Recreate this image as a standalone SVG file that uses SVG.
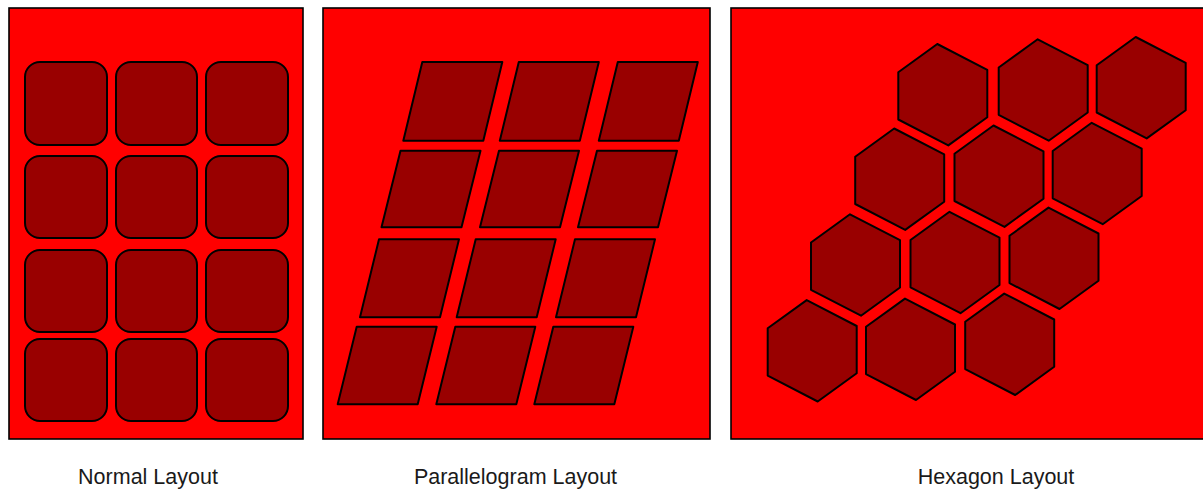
<svg xmlns="http://www.w3.org/2000/svg" xmlns:xlink="http://www.w3.org/1999/xlink" width="1203" height="491" viewBox="0 0 1203 491">
  <style>
    .panel { fill: #ff0000; stroke: #000000; stroke-width: 1.6; }
    .tile { fill: #990000; stroke: #000000; stroke-width: 2; stroke-linejoin: round; }
    .label { font-family: "Liberation Sans", Arial, sans-serif; font-size: 21.5px; fill: #1a1a1a; text-anchor: middle; }
  </style>
  <defs>
    <polygon id="hexShape" class="tile" points="-5.5,-50.7 44.5,-24.8 44.5,22.5 5.5,50.7 -44.5,24.8 -44.5,-22.5"/>
  </defs>
  <rect width="1203" height="491" fill="#ffffff"/>

  <!-- Panels -->
  <g id="panel-normal"><rect class="panel" x="9" y="8" width="294" height="431"/></g>
  <g id="panel-parallelogram"><rect class="panel" x="323" y="8" width="387" height="431"/></g>
  <g id="panel-hexagon"><rect class="panel" x="731" y="8" width="480" height="431"/></g>

  <!-- Normal layout tiles -->
  <g id="normal-r1c1"><rect class="tile" x="25" y="62" width="82" height="83" rx="15"/></g>
  <g id="normal-r1c2"><rect class="tile" x="116" y="62" width="81" height="83" rx="15"/></g>
  <g id="normal-r1c3"><rect class="tile" x="206" y="62" width="82" height="83" rx="15"/></g>
  <g id="normal-r2c1"><rect class="tile" x="25" y="156" width="82" height="82" rx="15"/></g>
  <g id="normal-r2c2"><rect class="tile" x="116" y="156" width="81" height="82" rx="15"/></g>
  <g id="normal-r2c3"><rect class="tile" x="206" y="156" width="82" height="82" rx="15"/></g>
  <g id="normal-r3c1"><rect class="tile" x="25" y="250" width="82" height="82" rx="15"/></g>
  <g id="normal-r3c2"><rect class="tile" x="116" y="250" width="81" height="82" rx="15"/></g>
  <g id="normal-r3c3"><rect class="tile" x="206" y="250" width="82" height="82" rx="15"/></g>
  <g id="normal-r4c1"><rect class="tile" x="25" y="339" width="82" height="82" rx="15"/></g>
  <g id="normal-r4c2"><rect class="tile" x="116" y="339" width="81" height="82" rx="15"/></g>
  <g id="normal-r4c3"><rect class="tile" x="206" y="339" width="82" height="82" rx="15"/></g>

  <!-- Parallelogram layout tiles -->
  <g id="para-r1c1"><polygon class="tile" points="422.3,62 502.3,62 483.3,140.7 403.3,140.7"/></g>
  <g id="para-r1c2"><polygon class="tile" points="518.8,62 598.8,62 579.8,140.7 499.8,140.7"/></g>
  <g id="para-r1c3"><polygon class="tile" points="617.8,62 697.8,62 678.8,140.7 598.8,140.7"/></g>
  <g id="para-r2c1"><polygon class="tile" points="400.5,150.7 480.5,150.7 461.5,227.3 381.5,227.3"/></g>
  <g id="para-r2c2"><polygon class="tile" points="499,150.7 579,150.7 560,227.3 480,227.3"/></g>
  <g id="para-r2c3"><polygon class="tile" points="597,150.7 677,150.7 658,227.3 578,227.3"/></g>
  <g id="para-r3c1"><polygon class="tile" points="379,239.3 459,239.3 440,317.3 360,317.3"/></g>
  <g id="para-r3c2"><polygon class="tile" points="475.7,239.3 555.7,239.3 536.7,317.3 456.7,317.3"/></g>
  <g id="para-r3c3"><polygon class="tile" points="575,239.3 655,239.3 636,317.3 556,317.3"/></g>
  <g id="para-r4c1"><polygon class="tile" points="356.7,326.7 436.7,326.7 417.7,404.3 337.7,404.3"/></g>
  <g id="para-r4c2"><polygon class="tile" points="455.3,326.7 535.3,326.7 516.3,404.3 436.3,404.3"/></g>
  <g id="para-r4c3"><polygon class="tile" points="553.3,326.7 633.3,326.7 614.3,404.3 534.3,404.3"/></g>

  <!-- Hexagon layout tiles -->
  <g id="hex-r1c1" transform="translate(942.8,94.7)"><use xlink:href="#hexShape" href="#hexShape"/></g>
  <g id="hex-r1c2" transform="translate(1043.2,90)"><use xlink:href="#hexShape" href="#hexShape"/></g>
  <g id="hex-r1c3" transform="translate(1141.2,87.7)"><use xlink:href="#hexShape" href="#hexShape"/></g>
  <g id="hex-r2c1" transform="translate(899.7,179.2)"><use xlink:href="#hexShape" href="#hexShape"/></g>
  <g id="hex-r2c2" transform="translate(999,176.2)"><use xlink:href="#hexShape" href="#hexShape"/></g>
  <g id="hex-r2c3" transform="translate(1097.2,173.5)"><use xlink:href="#hexShape" href="#hexShape"/></g>
  <g id="hex-r3c1" transform="translate(855.5,265)"><use xlink:href="#hexShape" href="#hexShape"/></g>
  <g id="hex-r3c2" transform="translate(955,262.5)"><use xlink:href="#hexShape" href="#hexShape"/></g>
  <g id="hex-r3c3" transform="translate(1054,258.3)"><use xlink:href="#hexShape" href="#hexShape"/></g>
  <g id="hex-r4c1" transform="translate(812.2,350.8)"><use xlink:href="#hexShape" href="#hexShape"/></g>
  <g id="hex-r4c2" transform="translate(910.5,349.3)"><use xlink:href="#hexShape" href="#hexShape"/></g>
  <g id="hex-r4c3" transform="translate(1009.7,344.3)"><use xlink:href="#hexShape" href="#hexShape"/></g>

  <g id="connectors"></g>

  <!-- Labels -->
  <g id="labels">
    <text class="label" x="148" y="484">Normal Layout</text>
    <text class="label" x="515.5" y="484">Parallelogram Layout</text>
    <text class="label" x="996" y="484">Hexagon Layout</text>
  </g>
</svg>
